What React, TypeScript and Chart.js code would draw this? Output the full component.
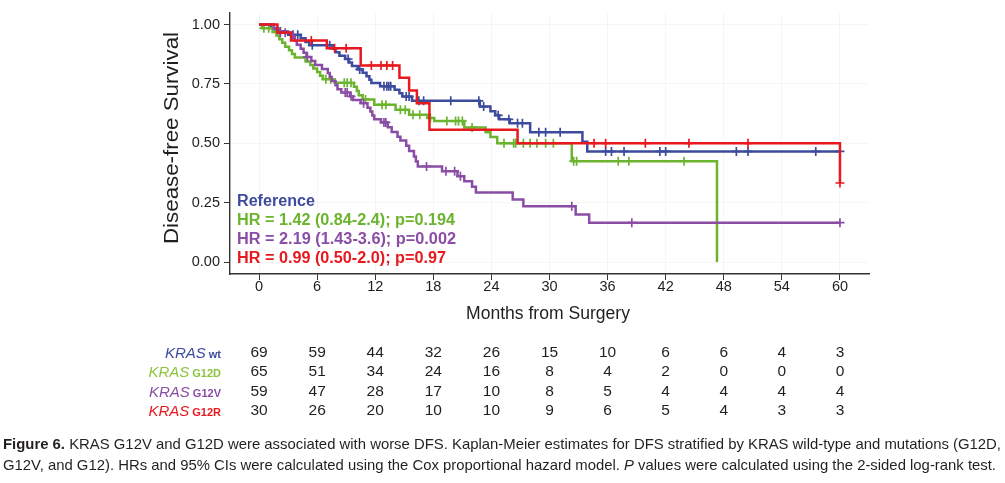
import React, { useEffect, useRef } from 'react';
import { Chart, registerables } from 'chart.js';
Chart.register(...registerables);

// ---------- data ----------
const xTickValues = [0, 6, 12, 18, 24, 30, 36, 42, 48, 54, 60];
const yTickValues = [0, 0.25, 0.5, 0.75, 1];

const wtTimes = [0, 1.2, 1.7, 3.0, 4.3, 4.8, 5.2, 7.6, 7.9, 8.3, 8.9, 9.3, 9.6, 10.2, 10.7, 11.1, 11.4, 11.6, 12.5, 14.0, 14.5, 14.8, 15.8, 22.8, 23.9, 24.4, 24.8, 25.9, 28.0, 33.4, 33.9];
const wtSurv = [1, 0.986, 0.971, 0.957, 0.942, 0.927, 0.913, 0.898, 0.884, 0.869, 0.855, 0.84, 0.826, 0.811, 0.797, 0.782, 0.768, 0.754, 0.74, 0.726, 0.711, 0.697, 0.679, 0.655, 0.635, 0.618, 0.601, 0.585, 0.547, 0.507, 0.466];
const wtCensor = [2.2, 3.5, 4.0, 5.5, 7.3, 9.2, 10.4, 12.9, 13.2, 13.4, 13.6, 15.2, 15.5, 16.5, 17.0, 19.8, 22.7, 23.2, 24.7, 25.8, 26.7, 27.2, 28.9, 29.6, 31.1, 35.8, 36.4, 37.7, 41.4, 42.0, 49.3, 50.5, 57.5, 60];
const wtEnd = 60;

const g12dTimes = [0, 0.3, 1.4, 1.8, 2.1, 2.4, 2.7, 3.1, 3.4, 3.7, 4.8, 5.3, 5.6, 6.0, 6.3, 6.6, 7.8, 9.8, 10.1, 10.3, 10.7, 11.9, 14.1, 15.5, 17.4, 18.1, 21.2, 23.4, 23.9, 24.6, 32.3, 47.3];
const g12dSurv = [1, 0.985, 0.969, 0.954, 0.938, 0.923, 0.907, 0.892, 0.876, 0.861, 0.845, 0.83, 0.815, 0.8, 0.785, 0.77, 0.755, 0.738, 0.72, 0.703, 0.685, 0.663, 0.641, 0.62, 0.607, 0.594, 0.567, 0.547, 0.527, 0.5, 0.425, 0];
const g12dCensor = [0.5, 1.0, 6.9, 7.4, 8.8, 9.1, 9.5, 11.0, 12.7, 13.1, 14.6, 15.1, 15.9, 16.6, 17.7, 19.4, 20.3, 20.6, 21.0, 22.0, 25.3, 26.3, 26.5, 27.3, 28.0, 28.7, 29.6, 30.4, 32.5, 32.8, 37.1, 38.2, 43.9];
const g12dEnd = 47.3;

const g12vTimes = [0, 1.5, 2.0, 3.5, 3.7, 3.9, 4.3, 4.6, 4.9, 5.4, 5.8, 6.5, 7.1, 7.3, 7.5, 7.9, 8.1, 8.5, 9.4, 9.7, 10.5, 11.2, 11.5, 11.7, 11.9, 12.6, 13.3, 13.7, 14.3, 14.6, 15.2, 15.5, 16.0, 16.2, 16.4, 18.9, 20.5, 21.2, 22.0, 22.4, 26.2, 27.3, 32.7, 34.1];
const g12vSurv = [1, 0.983, 0.966, 0.949, 0.932, 0.915, 0.898, 0.881, 0.864, 0.847, 0.83, 0.813, 0.796, 0.779, 0.762, 0.745, 0.728, 0.714, 0.698, 0.683, 0.669, 0.65, 0.634, 0.617, 0.601, 0.588, 0.568, 0.548, 0.528, 0.512, 0.49, 0.468, 0.445, 0.424, 0.403, 0.383, 0.362, 0.34, 0.317, 0.293, 0.264, 0.235, 0.2, 0.166];
const g12vCensor = [2.2, 2.7, 5.0, 8.9, 9.1, 9.5, 10.8, 12.9, 13.1, 17.3, 19.3, 20.2, 20.8, 32.3, 38.5, 60];
const g12vEnd = 60;

const g12rTimes = [0, 1.9, 3.3, 7.0, 10.5, 14.5, 15.5, 16.3, 17.6, 26.7, 60];
const g12rSurv = [1, 0.967, 0.933, 0.9, 0.828, 0.776, 0.723, 0.669, 0.557, 0.5, 0.333];
const g12rCensor = [5.4, 7.8, 9.0, 11.6, 12.6, 13.2, 13.8, 34.6, 35.8, 39.9, 44.4, 50.5, 60];
const g12rEnd = 60;

const riskTimes = [0, 6, 12, 18, 24, 30, 36, 42, 48, 54, 60];
const riskWt = [69, 59, 44, 32, 26, 15, 10, 6, 6, 4, 3];
const riskG12D = [65, 51, 34, 24, 16, 8, 4, 2, 0, 0, 0];
const riskG12V = [59, 47, 28, 17, 10, 8, 5, 4, 4, 4, 4];
const riskG12R = [30, 26, 20, 10, 10, 9, 6, 5, 4, 3, 3];
const riskSubLabels = ['wt', 'G12D', 'G12V', 'G12R'];

const hrLines = ['Reference', 'HR = 1.42 (0.84-2.4); p=0.194', 'HR = 2.19 (1.43-3.6); p=0.002', 'HR = 0.99 (0.50-2.0); p=0.97'];
const yTitle = 'Disease-free Survival';
const xTitle = 'Months from Surgery';
const captionLine1 = ['Figure 6.', ' KRAS G12V and G12D were associated with worse DFS. Kaplan-Meier estimates for DFS stratified by KRAS wild-type and mutations (G12D,'];
const captionLine2 = ['G12V, and G12). HRs and 95% CIs were calculated using the Cox proportional hazard model. ', 'P', ' values were calculated using the 2-sided log-rank test.'];

// ---------- style ----------
const FONT = '"Liberation Sans", Arial, Helvetica, sans-serif';
const BLUE = '#3D4B9F';
const GREEN = '#6BB42E';
const PURPLE = '#8A4DA5';
const RED = '#E8181F';
const LABEL_COLORS = [BLUE, '#8CC43E', PURPLE, RED];
const TEXT = '#1f1f1f';

function survAt(times: number[], surv: number[], t: number) {
  let v = surv[0];
  for (let i = 0; i < times.length; i++) if (times[i] <= t) v = surv[i];
  return v;
}
function stepPoints(times: number[], surv: number[], end: number) {
  const pts = times.map((t, i) => ({ x: t, y: surv[i] }));
  if (end > times[times.length - 1]) pts.push({ x: end, y: surv[surv.length - 1] });
  return pts;
}
function censorPoints(times: number[], surv: number[], cens: number[]) {
  return cens.map((t) => ({ x: t, y: survAt(times, surv, t) }));
}

function drawFit(ctx: CanvasRenderingContext2D, text: string, x: number, y: number, width: number, font: string, color: string, align: string) {
  ctx.save();
  ctx.font = font;
  ctx.fillStyle = color;
  ctx.textBaseline = 'middle';
  ctx.textAlign = 'left';
  const w = ctx.measureText(text).width;
  const s = width / w;
  const left = align === 'center' ? x - width / 2 : align === 'right' ? x - width : x;
  ctx.translate(left, y);
  ctx.scale(s, 1);
  ctx.fillText(text, 0, 0);
  ctx.restore();
}
function drawSegs(ctx: CanvasRenderingContext2D, segs: { t: string; f: string }[], x: number, y: number, width: number, color: string) {
  ctx.save();
  ctx.fillStyle = color;
  ctx.textBaseline = 'middle';
  ctx.textAlign = 'left';
  const ws = segs.map((s) => { ctx.font = s.f; return ctx.measureText(s.t).width; });
  const total = ws.reduce((a, b) => a + b, 0);
  const sc = width / total;
  ctx.translate(x, y);
  ctx.scale(sc, 1);
  let cx = 0;
  segs.forEach((s, i) => { ctx.font = s.f; ctx.fillText(s.t, cx, 0); cx += ws[i]; });
  ctx.restore();
}

const textPlugin = {
  id: 'kmText',
  afterDraw(chart: any) {
    const ctx: CanvasRenderingContext2D = chart.ctx;
    const xs = chart.scales.x;
    // axis titles
    ctx.save();
    ctx.translate(172, 138);
    ctx.rotate(-Math.PI / 2);
    drawFit(ctx, yTitle, 0, 0, 212, `20px ${FONT}`, TEXT, 'center');
    ctx.restore();
    drawFit(ctx, xTitle, 548, 314, 164, `18px ${FONT}`, TEXT, 'center');
    // HR annotations
    const hrColors = [BLUE, GREEN, PURPLE, RED];
    const hrWidths = [78, 218, 219, 209];
    hrLines.forEach((t, i) => drawFit(ctx, t, 237, 201.5 + i * 19, hrWidths[i], `bold 16px ${FONT}`, hrColors[i], 'left'));
    // risk table
    const rows = [riskWt, riskG12D, riskG12V, riskG12R];
    rows.forEach((row, r) => {
      const y = 352.5 + r * 19.4;
      ctx.save();
      ctx.fillStyle = TEXT;
      ctx.font = `15.5px ${FONT}`;
      ctx.textAlign = 'center';
      ctx.textBaseline = 'middle';
      row.forEach((n, j) => ctx.fillText(String(n), xs.getPixelForValue(riskTimes[j]), y));
      // label
      ctx.fillStyle = LABEL_COLORS[r];
      ctx.textBaseline = 'alphabetic';
      ctx.font = `bold 11px ${FONT}`;
      const sub = riskSubLabels[r];
      const subW = ctx.measureText(sub).width;
      const subX = 221 - subW;
      ctx.textAlign = 'left';
      ctx.fillText(sub, subX, y + 5.5);
      ctx.font = `italic 15px ${FONT}`;
      ctx.textAlign = 'right';
      ctx.fillText('KRAS', subX - 3, y + 5.5);
      ctx.restore();
    });
    // caption
    drawSegs(ctx, [{ t: captionLine1[0], f: `bold 15px ${FONT}` }, { t: captionLine1[1], f: `15px ${FONT}` }], 3, 445, 998, '#231F20');
    drawSegs(ctx, [{ t: captionLine2[0], f: `15px ${FONT}` }, { t: captionLine2[1], f: `italic 15px ${FONT}` }, { t: captionLine2[2], f: `15px ${FONT}` }], 3, 466, 993, '#231F20');
  },
};

function lineDs(label: string, data: any[], color: string) {
  return { label, data, borderColor: color, backgroundColor: color, borderWidth: 2.5, stepped: 'before', pointRadius: 0, fill: false, showLine: true };
}
function censDs(label: string, data: any[], color: string) {
  return { label, data, borderColor: color, backgroundColor: color, showLine: false, pointStyle: 'cross', pointRadius: 4.5, pointBorderWidth: 1.7, pointHoverRadius: 4.5 };
}

export default function App() {
  const ref = useRef<HTMLCanvasElement>(null);
  useEffect(() => {
    document.body.style.margin = '0';
    const tickFont = { family: FONT, size: 14.5 };
    const chart = new Chart(ref.current as HTMLCanvasElement, {
      type: 'line',
      data: {
        datasets: [
          lineDs('G12R', stepPoints(g12rTimes, g12rSurv, g12rEnd), RED),
          censDs('G12R c', censorPoints(g12rTimes, g12rSurv, g12rCensor), RED),
          lineDs('G12V', stepPoints(g12vTimes, g12vSurv, g12vEnd), PURPLE),
          censDs('G12V c', censorPoints(g12vTimes, g12vSurv, g12vCensor), PURPLE),
          lineDs('G12D', stepPoints(g12dTimes, g12dSurv, g12dEnd), GREEN),
          censDs('G12D c', censorPoints(g12dTimes, g12dSurv, g12dCensor), GREEN),
          lineDs('wt', stepPoints(wtTimes, wtSurv, wtEnd), BLUE),
          censDs('wt c', censorPoints(wtTimes, wtSurv, wtCensor), BLUE),
        ] as any,
      },
      options: {
        responsive: false,
        animation: false,
        devicePixelRatio: 1,
        layout: { padding: { left: 0, right: 136, top: 3, bottom: 179 } },
        plugins: { legend: { display: false }, tooltip: { enabled: false } },
        scales: {
          x: {
            type: 'linear',
            min: -3,
            max: 63,
            afterBuildTicks: (s: any) => { s.ticks = xTickValues.map((v) => ({ value: v })); },
            afterFit: (s: any) => { s.height = 30; },
            grid: { color: 'rgba(0,0,0,0.035)', tickColor: '#333', tickLength: 6, lineWidth: 1 },
            border: { color: '#333', width: 1.4 },
            ticks: { font: tickFont, color: TEXT, padding: -2, maxRotation: 0, autoSkip: false },
          },
          y: {
            type: 'linear',
            min: -0.05,
            max: 1.05,
            afterBuildTicks: (s: any) => { s.ticks = yTickValues.map((v) => ({ value: v })); },
            afterFit: (s: any) => { s.width = 230; },
            grid: { color: 'rgba(0,0,0,0.035)', tickColor: '#333', tickLength: 6, lineWidth: 1 },
            border: { color: '#333', width: 1.4 },
            ticks: { font: tickFont, color: TEXT, padding: 4, callback: (v: any) => Number(v).toFixed(2) },
          },
        },
      } as any,
      plugins: [textPlugin],
    });
    return () => chart.destroy();
  }, []);
  return (
    <div style={{ width: 1005, height: 483, position: 'relative' }}>
      <canvas ref={ref} width={1005} height={483} style={{ display: 'block', width: 1005, height: 483 }} />
    </div>
  );
}
